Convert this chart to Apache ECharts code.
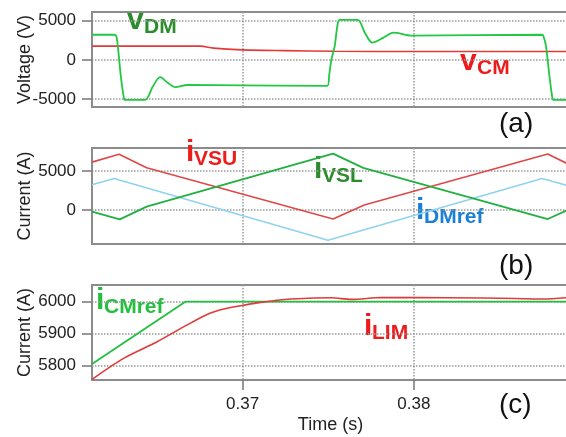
<!DOCTYPE html>
<html>
<head>
<meta charset="utf-8">
<script src="https://cdn.jsdelivr.net/npm/echarts@6/dist/echarts.min.js"></script>
<style>
html,body{margin:0;padding:0;background:#fff;}
#main{width:566px;height:437px;}
</style>
</head>
<body>
<div id="main"></div>
<script>
// 时间轴
var tMin = 0.3612, tMax = 0.38906;
var xTicks = [0.37, 0.38];

// (a) 电压
var tVdm = [0.3612, 0.3625, 0.36262, 0.36271, 0.36288, 0.36305, 0.36312, 0.36429, 0.36475, 0.36518, 0.36562, 0.36606, 0.36676, 0.3700, 0.37494, 0.37506, 0.37518, 0.37537, 0.37555, 0.37566, 0.37671, 0.37715, 0.37757, 0.3782, 0.37881, 0.37988, 0.38749, 0.3876, 0.38772, 0.38792, 0.38808, 0.38816, 0.38906];
var vDM = [3200, 3200, 3000, 1700, -2000, -4700, -5100, -5100, -3400, -2200, -2900, -3470, -3200, -3250, -3300, -1800, 0, 1700, 4600, 5100, 5100, 3400, 2200, 2800, 3470, 3090, 3200, 2800, 1700, -2100, -4700, -5100, -5100];
var tVcm = [0.3612, 0.36753, 0.36829, 0.3700, 0.37241, 0.37535, 0.3800, 0.38906];
var vCM = [1750, 1750, 1500, 1280, 1180, 1100, 1060, 1060];
var vTicks = [-5000, 0, 5000];

// (b) 桥臂电流
var tVsu = [0.3612, 0.36278, 0.36439, 0.37528, 0.3771, 0.38782, 0.38906];
var iVSU = [6175, 7200, 5440, -1175, 650, 7230, 5870];
var tVsl = [0.3612, 0.36282, 0.36439, 0.37528, 0.37704, 0.38782, 0.38906];
var iVSL = [-220, -1215, 430, 7270, 5440, -1175, 80];
var tDm = [0.3612, 0.36249, 0.37498, 0.38749, 0.38906];
var iDMref = [3260, 4050, -3920, 4050, 3100];
var bTicks = [0, 5000];

// (c) 共模电流
var tCm = [0.3612, 0.36665, 0.38906];
var iCMref = [5805, 6000, 6000];
var tLim = [0.3612, 0.36302, 0.36498, 0.36655, 0.36792, 0.3689, 0.36998, 0.37086, 0.37184, 0.37282, 0.37518, 0.37635, 0.37812, 0.38204, 0.38594, 0.38753, 0.38906];
var iLIM = [5757, 5822, 5874, 5921, 5960, 5977, 5988, 5996, 6003, 6008, 6012, 6007, 6013, 6012, 6010, 6008, 6013];
var cTicks = [5800, 5900, 6000];

var FONT = '"Liberation Sans", Arial, sans-serif';

function pairs(t, v){
	var out = [];
	for(var i = 0; i < t.length; i++){
		out.push([t[i], v[i]]);
	}
	return out;
}

function plain(v){
	return String(v);
}

function xAxisOf(idx, last){
	return {
		type: 'value', gridIndex: idx, min: tMin, max: tMax,
		name: last ? 'Time (s)' : '',
		nameLocation: 'middle', nameGap: 36, nameMoveOverlap: false,
		nameTextStyle: {fontFamily: FONT, fontSize: 18, color: '#222'},
		axisLine: {show: false},
		axisTick: {show: last, customValues: xTicks, length: 10, lineStyle: {color: '#777', width: 1.5}},
		axisLabel: {show: last, customValues: xTicks, formatter: plain, margin: 16, fontFamily: FONT, fontSize: 17, color: '#222'},
		splitLine: {show: true, lineStyle: {color: '#999', type: 'dotted', width: 1.5}}
	};
}

function yAxisOf(idx, name, min, max, ticks){
	return {
		type: 'value', gridIndex: idx, min: min, max: max,
		name: name, nameLocation: 'middle', nameRotate: 90, nameGap: 58, nameMoveOverlap: false,
		nameTextStyle: {fontFamily: FONT, fontSize: 18, color: '#222'},
		axisLine: {show: false},
		axisTick: {show: true, customValues: ticks, length: 10, lineStyle: {color: '#777', width: 1.5}},
		axisLabel: {customValues: ticks, formatter: plain, margin: 16, fontFamily: FONT, fontSize: 17, color: '#222'},
		splitLine: {show: true, lineStyle: {color: '#999', type: 'dotted', width: 1.5}}
	};
}

function line(idx, data, color, width, smooth){
	return {
		type: 'line', xAxisIndex: idx, yAxisIndex: idx, data: data,
		showSymbol: false, smooth: smooth || false, silent: true,
		lineStyle: {color: color, width: width}
	};
}

// 标签：大写字母+下标
function lbl(x, y, main, sub, color){
	return [
		{type: 'text', left: x, top: y, style: {text: main, fill: color, font: 'bold 30px ' + FONT}},
		{type: 'text', left: x + (main == 'v' ? 17 : 8), top: y + 11, style: {text: sub, fill: color, font: 'bold 21px ' + FONT}}
	];
}

var myChart = echarts.init(document.getElementById('main'));
var graphics = [].concat(
	lbl(127, 6, 'v', 'DM', '#2b8c2b'),
	lbl(460, 47, 'v', 'CM', '#ee1b1b'),
	lbl(186, 138, 'i', 'VSU', '#ee1b1b'),
	lbl(314, 155, 'i', 'VSL', '#2b8c2b'),
	lbl(416, 196, 'i', 'DMref', '#1c7fd6'),
	lbl(96, 286, 'i', 'CMref', '#22c03c'),
	lbl(364, 312, 'i', 'LIM', '#ee1b1b'),
	[
		{type: 'text', left: 499, top: 110, style: {text: '(a)', fill: '#111', font: '28px ' + FONT}},
		{type: 'text', left: 499, top: 252, style: {text: '(b)', fill: '#111', font: '28px ' + FONT}},
		{type: 'text', left: 499, top: 391, style: {text: '(c)', fill: '#111', font: '28px ' + FONT}}
	]
);

var gridStyle = {show: true, borderColor: '#8c8c8c', borderWidth: 2, backgroundColor: '#fff', outerBoundsMode: 'none', containLabel: false};
var option = {
	animation: false,
	backgroundColor: '#fff',
	grid: [
		Object.assign({left: 92, right: -3, top: 12, height: 95}, gridStyle),
		Object.assign({left: 92, right: -3, top: 148, height: 96}, gridStyle),
		Object.assign({left: 92, right: -3, top: 285, height: 95}, gridStyle)
	],
	xAxis: [xAxisOf(0, false), xAxisOf(1, false), xAxisOf(2, true)],
	yAxis: [
		yAxisOf(0, 'Voltage (V)', -6000, 6100, vTicks),
		yAxisOf(1, 'Current (A)', -4400, 8000, bTicks),
		yAxisOf(2, 'Current (A)', 5755, 6052, cTicks)
	],
	series: [
		line(0, pairs(tVcm, vCM), '#e23a3a', 1.6, 0.3),
		line(0, pairs(tVdm, vDM), '#22c744', 1.8, 0.3),
		line(1, pairs(tDm, iDMref), '#8fd3ee', 1.6),
		line(1, pairs(tVsu, iVSU), '#e04848', 1.6),
		line(1, pairs(tVsl, iVSL), '#22b040', 1.8),
		line(2, pairs(tCm, iCMref), '#22c040', 1.8),
		line(2, pairs(tLim, iLIM), '#e03a3a', 1.6, 0.3)
	],
	graphic: graphics
};
// 使用刚指定的配置项和数据显示图表。
myChart.setOption(option);
</script>
</body>
</html>
